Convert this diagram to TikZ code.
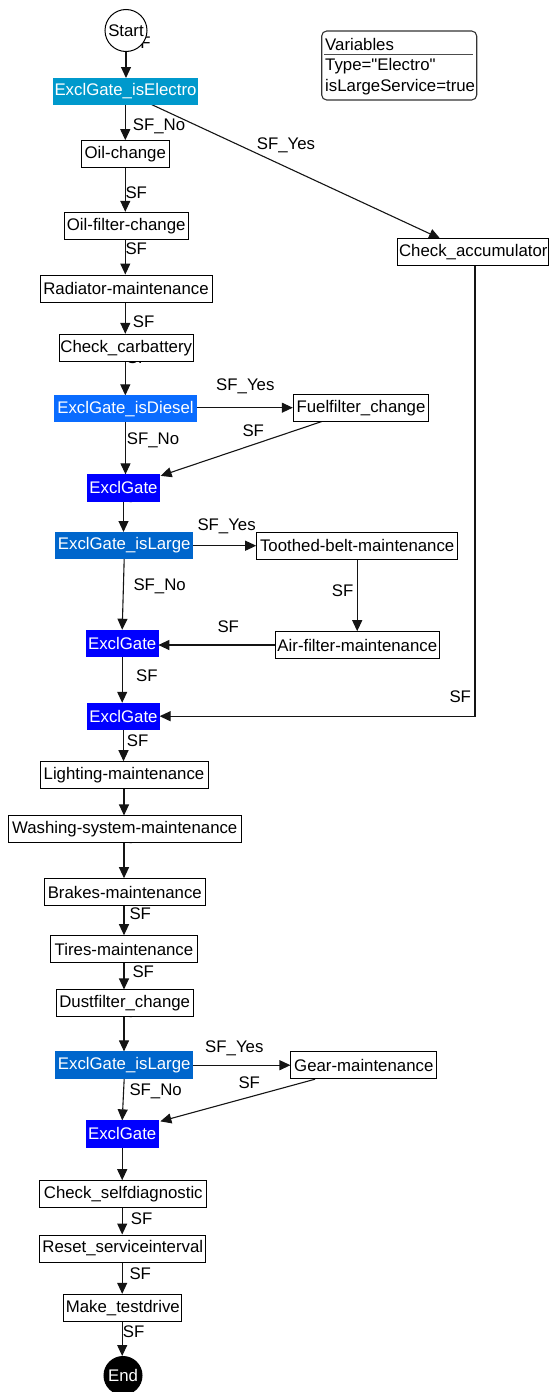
\documentclass[tikz,border=0pt]{standalone}
\usepackage{fontspec}
\setmainfont{Liberation Sans}[Ligatures=TeXOff]
\usetikzlibrary{arrows.meta,calc}
\pgfdeclarelayer{background}
\pgfsetlayers{background,main}
\definecolor{gElectro}{RGB}{0,153,204}
\definecolor{gDiesel}{RGB}{10,108,255}
\definecolor{gLarge}{RGB}{0,102,204}
\definecolor{gExcl}{RGB}{0,0,255}
\definecolor{edgecol}{RGB}{20,20,20}
\tikzset{
  every node/.style={font=\fontsize{16.8}{19}\selectfont},
  box/.style={draw=black, line width=1pt, fill=white, inner sep=0pt},
  gate/.style={draw=#1, line width=0.6pt, fill=#1, text=white, inner sep=0pt},
  ev/.style={draw=black, line width=1pt, circle, inner sep=0pt, minimum size=#1},
  flow/.style={draw=edgecol, line width=1.1pt, -{Triangle[length=11pt,width=10pt]}},
  lab/.style={anchor=west, inner sep=0pt}
}
\begin{document}
\begin{tikzpicture}[x=1pt,y=-1pt]
\useasboundingbox (0,0) rectangle (551,1392);
% ---------- nodes ----------
\node[ev=42pt, fill=white] (start) at (126,30.5) {Start};
\node[gate=gElectro, minimum width=144.4pt, minimum height=26pt] (elec) at (125.5,91.3) {ExclGate\_isElectro};
\node[box, minimum width=88pt, minimum height=27pt] (oil) at (125.3,154.2) {Oil-change};
\node[box, minimum width=124.3pt, minimum height=27pt] (oilf) at (126.2,225.8) {Oil-filter-change};
\node[box, minimum width=172pt, minimum height=27pt] (rad) at (126,288.5) {Radiator-maintenance};
\node[box, minimum width=134.3pt, minimum height=27pt] (carb) at (126.2,347.8) {Check\_carbattery};
\node[gate=gDiesel, minimum width=142.4pt, minimum height=26pt] (dies) at (125.5,408.7) {ExclGate\_isDiesel};
\node[box, minimum width=135.4pt, minimum height=26.7pt] (fuel) at (361,407.7) {Fuelfilter\_change};
\node[gate=gExcl, minimum width=71.6pt, minimum height=26.3pt] (g1) at (123.5,487.8) {ExclGate};
\node[gate=gLarge, minimum width=137pt, minimum height=26pt] (large1) at (124.2,545.3) {ExclGate\_isLarge};
\node[box, minimum width=201pt, minimum height=26.7pt] (tooth) at (357.2,545.7) {Toothed-belt-maintenance};
\node[gate=gExcl, minimum width=71.7pt, minimum height=26.3pt] (g2) at (122.2,643.2) {ExclGate};
\node[box, minimum width=164pt, minimum height=26.6pt] (air) at (357.3,645) {Air-filter-maintenance};
\node[gate=gExcl, minimum width=71.6pt, minimum height=26.3pt] (g3) at (123.5,716.2) {ExclGate};
\node[box, minimum width=151.3pt, minimum height=26.7pt] (acc) at (473.3,252.3) {Check\_accumulator};
\node[box, minimum width=168pt, minimum height=26.6pt] (light) at (124,775) {Lighting-maintenance};
\node[box, minimum width=232.7pt, minimum height=26.7pt] (wash) at (124.7,829.3) {Washing-system-maintenance};
\node[box, minimum width=161pt, minimum height=26.6pt] (brake) at (124.8,892) {Brakes-maintenance};
\node[box, minimum width=146.6pt, minimum height=26.6pt] (tire) at (124,949) {Tires-maintenance};
\node[box, minimum width=137.3pt, minimum height=26.7pt] (dust) at (124.7,1003.3) {Dustfilter\_change};
\node[gate=gLarge, minimum width=137pt, minimum height=26.6pt] (large2) at (124.2,1065) {ExclGate\_isLarge};
\node[box, minimum width=145.7pt, minimum height=27pt] (gear) at (363.8,1065.2) {Gear-maintenance};
\node[gate=gExcl, minimum width=71.7pt, minimum height=26.3pt] (g4) at (122.2,1133.8) {ExclGate};
\node[box, minimum width=166.7pt, minimum height=27pt] (self) at (123.3,1194.2) {Check\_selfdiagnostic};
\node[box, minimum width=165.7pt, minimum height=27pt] (reset) at (122.8,1248.5) {Reset\_serviceinterval};
\node[box, minimum width=117.7pt, minimum height=27.4pt] (drive) at (122.8,1308) {Make\_testdrive};
\node[ev=38pt, fill=black, text=white] (end) at (123,1375.5) {End};
% variables box
\node[draw=black!80, line width=1.1pt, rounded corners=5pt, minimum width=155pt, minimum height=69pt, inner sep=0pt] (vars) at (399.2,65.5) {};
\node[lab] (v1) at (325,44.3) {Variables};
\node[lab] (v2) at (325,65.7) {Type="Electro"};
\node[lab] (v3) at (325,87.3) {isLargeService=true};
\draw[black!70, line width=1.6pt] ($(vars.west)+(3,-11.2)$) -- ($(vars.east)+(-4,-11.2)$);
% ---------- connectors and labels ----------
\begin{pgfonlayer}{background}
\node[lab] (l0) at (129,43) {SF};
\draw[flow] (start) -- (start |- elec.north);
\draw[flow] (elec.south -| oil) -- (oil.north);
\node[lab] (l1) at (132.7,126) {SF\_No};
\draw[flow] ([xshift=26.2pt]elec.south) -- ([xshift=-33.3pt]acc.north);
\node[lab] (l2) at (256.7,145.7) {SF\_Yes};
\draw[flow] (oil) -- (oil |- oilf.north);
\node[lab] (l3) at (125.3,192.7) {SF};
\draw[flow] (oil |- oilf.south) -- (oil |- rad.north);
\node[lab] (l4) at (125.3,248.3) {SF};
\draw[flow] (oil |- rad.south) -- (oil |- carb.north);
\node[lab] (l5) at (132.7,321.7) {SF};
\node[lab] (l6) at (126.7,357.7) {SF};
\draw[flow] (oil |- carb.south) -- (oil |- dies.north);
\draw[flow] (dies.east |- fuel.west) -- (fuel.west);
\node[lab] (l7) at (216,386.7) {SF\_Yes};
\draw[flow] (dies.south) -- (dies.south |- g1.north);
\node[lab] (l8) at (126.7,440) {SF\_No};
\draw[flow] ([xshift=-39.3pt]fuel.south) -- ([shift={(1pt,-1.5pt)}]g1.north east);
\node[lab] (l9) at (242.3,430.7) {SF};
\node[lab] (l10) at (125,496.7) {SF};
\draw[flow] (g1.south) -- (g1.south |- large1.north);
\draw[flow] (large1.east |- tooth.west) -- (tooth.west);
\node[lab] (l11) at (197.3,526) {SF\_Yes};
\draw[flow] (large1.south) -- (g2.north);
\node[lab] (l12) at (133.3,586.7) {SF\_No};
\draw[flow] (tooth.south) -- (tooth.south |- air.north);
\node[lab] (l13) at (331.7,590.7) {SF};
\draw[flow] (air.west) -- (air.west -| g2.east);
\node[lab] (l14) at (217.3,626.7) {SF};
\draw[flow] (g2.south) -- (g2.south |- g3.north);
\node[lab] (l15) at (136,675.3) {SF};
\draw[flow] ([xshift=1.7pt]acc.south) |- (g3.east);
\node[lab] (l16) at (449.3,696.7) {SF};
\draw[flow] (g3.south) -- (g3.south |- light.north);
\node[lab] (l17) at (126.7,741) {SF};
\draw[flow] (light.south) -- (light.south |- wash.north);
\node[lab] (l18) at (125,838.2) {SF};
\draw[flow] (light.south |- wash.south) -- (light.south |- brake.north);
\draw[flow] (light.south |- brake.south) -- (light.south |- tire.north);
\node[lab] (l19) at (129.3,913.3) {SF};
\draw[flow] (light.south |- tire.south) -- (light.south |- dust.north);
\node[lab] (l20) at (132.3,971.7) {SF};
\node[lab] (l21) at (125,1012.2) {SF};
\draw[flow] (light.south |- dust.south) -- (light.south |- large2.north);
\draw[flow] (large2.east |- gear.west) -- (gear.west);
\node[lab] (l22) at (205,1048.7) {SF\_Yes};
\draw[flow] (large2.south) -- (g4.north);
\node[lab] (l23) at (129.3,1091) {SF\_No};
\draw[flow] ([xshift=-48.8pt]gear.south) -- ([shift={(2pt,-1pt)}]g4.north east);
\node[lab] (l24) at (238.3,1082.7) {SF};
\node[lab] (l25) at (124,1142.2) {SF};
\draw[flow] (g4.south) -- (g4.south |- self.north);
\draw[flow] (g4.south |- self.south) -- (g4.south |- reset.north);
\node[lab] (l26) at (130.7,1218.3) {SF};
\draw[flow] (g4.south |- reset.south) -- (g4.south |- drive.north);
\node[lab] (l27) at (129.3,1274) {SF};
\draw[flow] (g4.south |- drive.south) -- (g4.south |- end.north);
\node[lab] (l28) at (122.7,1331.7) {SF};
\end{pgfonlayer}
\end{tikzpicture}
\end{document}
